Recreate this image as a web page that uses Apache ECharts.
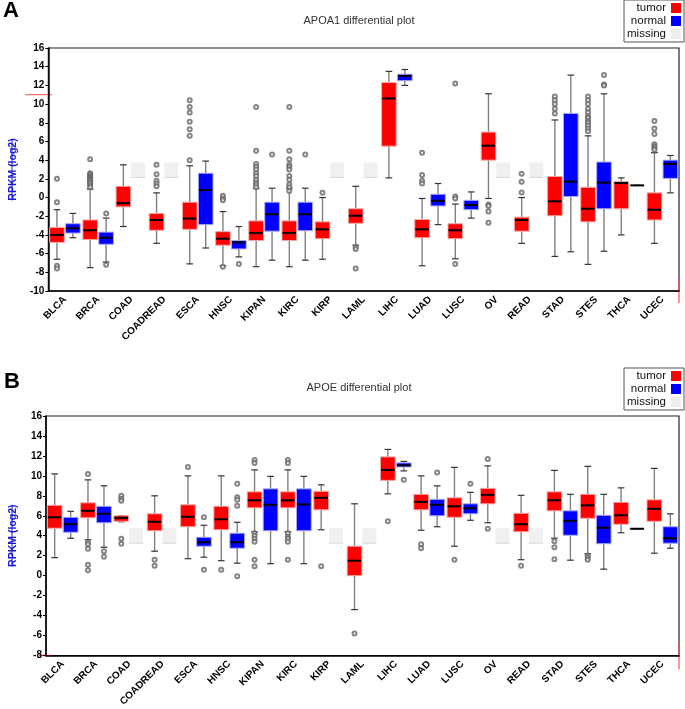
<!DOCTYPE html>
<html>
<head>
<meta charset="utf-8">
<script src="https://cdn.jsdelivr.net/npm/echarts@6/dist/echarts.min.js"></script>
<style>
html,body{margin:0;padding:0;background:#fff;}
#chart{width:685px;height:709px;}
</style>
</head>
<body>
<div id="chart"></div>
<script>
const categories = ['BLCA','BRCA','COAD','COADREAD','ESCA','HNSC','KIPAN','KIRC','KIRP','LAML','LIHC','LUAD','LUSC','OV','READ','STAD','STES','THCA','UCEC'];

// box values: [lower whisker, Q1, median, Q3, upper whisker]; null = missing
const apoa1Tumor = [
  [-6.6,-4.8,-4.0,-3.2,-1.3],
  [-7.5,-4.5,-3.5,-2.4,0.9],
  [-3.1,-1.0,-0.6,1.2,3.5],
  [-4.9,-3.5,-2.4,-1.7,0.5],
  [-7.1,-3.4,-2.25,-0.5,3.4],
  [-7.3,-5.1,-4.4,-3.65,-1.5],
  [-7.4,-4.6,-3.8,-2.5,1.0],
  [-7.4,-4.6,-3.8,-2.5,1.0],
  [-6.6,-4.4,-3.4,-2.6,0.0],
  [-5.1,-2.75,-1.95,-1.2,1.2],
  [2.1,5.5,10.6,12.3,13.5],
  [-7.3,-4.3,-3.4,-2.35,-0.1],
  [-6.55,-4.4,-3.5,-2.8,-0.7],
  [-0.1,4.0,5.55,7.0,11.1],
  [-4.9,-3.6,-2.4,-2.1,0.0],
  [-6.3,-1.95,-0.4,2.25,8.3],
  [-7.15,-2.6,-1.2,1.1,6.6],
  [-4.0,-1.2,1.55,1.7,2.1],
  [-4.9,-2.4,-1.3,0.5,4.8]
];
const apoa1Normal = [
  [-4.3,-3.8,-3.3,-2.8,-1.7],
  [-6.9,-5.0,-4.3,-3.7,-2.2],
  null,
  null,
  [-5.4,-2.9,0.8,2.6,3.9],
  [-6.35,-5.5,-4.8,-4.6,-3.1],
  [-6.7,-3.6,-1.8,-0.5,1.0],
  [-6.7,-3.55,-1.8,-0.5,1.0],
  null,
  null,
  [12.0,12.5,13.0,13.2,13.7],
  [-2.9,-0.9,-0.35,0.35,1.5],
  [-2.2,-1.3,-0.8,-0.3,0.6],
  null,
  null,
  [-5.8,0.1,1.7,9.0,13.1],
  [-5.75,-1.2,1.6,3.8,11.1],
  [1.3,1.3,1.3,1.3,1.3],
  [0.5,2.05,3.6,4.0,4.5]
];
const apoa1TumorOut = [
  [2.0,-0.5,-7.3,-7.6],
  [4.1,2.6,2.5,2.3,2.2,2.1,2.0,1.9,1.8,1.6,1.5,1.3,1.1],
  [],
  [3.5,2.5,1.8,1.5,1.2],
  [10.4,9.7,9.1,8.1,7.3,6.6,4.0],
  [0.2,-0.1,-0.3,-7.4],
  [9.7,5.0,3.6,3.3,3.0,2.6,2.3,1.9,1.6,1.4,1.1],
  [9.7,5.0,4.1,3.5,3.3,3.0,2.3,1.9,1.4,1.1,0.7],
  [0.5],
  [-5.3,-5.5,-7.6],
  [],
  [4.8,2.4,1.8,1.5],
  [12.2,0.1,-0.1,-7.1],
  [-0.75,-0.9,-1.5,-2.7],
  [2.55,1.7,0.55],
  [10.8,10.4,10.0,9.5,9.0],
  [10.8,10.4,10.0,9.5,9.1,8.7,8.5,8.2,8.0,7.7,7.4,7.1],
  [],
  [8.2,7.4,6.8,5.7,5.5,5.3,5.1]
];
const apoa1NormalOut = [
  [],[-1.7,-7.2],[],[],[],[-7.1],[4.6],[4.6],[],[],[],[],[],[],[],[],[13.1,12.1,12.0],[],[]
];
const apoa1Missing = [2.15, 3.75];

const apoeTumor = [
  [1.8,4.75,5.85,7.05,10.2],
  [3.6,5.8,6.5,7.3,9.6],
  [5.4,5.45,5.8,6.0,6.0],
  [2.45,4.5,5.4,6.2,8.0],
  [1.7,4.9,5.9,7.1,10.0],
  [1.5,4.6,5.65,6.95,10.0],
  [4.4,6.8,7.55,8.4,10.6],
  [4.4,6.8,7.55,8.4,10.6],
  [4.6,6.6,7.8,8.45,9.1],
  [-3.4,0.0,1.5,2.95,7.2],
  [8.2,9.55,10.6,11.9,12.65],
  [4.55,6.6,7.4,8.15,10.0],
  [2.95,5.85,6.95,7.8,10.85],
  [5.3,7.2,8.1,8.75,11.0],
  [1.6,4.4,5.15,6.25,8.05],
  [3.75,6.5,7.55,8.4,10.55],
  [2.2,5.75,7.05,8.15,10.95],
  [4.3,5.15,6.05,7.35,8.8],
  [2.25,5.45,6.7,7.6,10.75]
];
const apoeNormal = [
  [3.75,4.35,5.15,5.85,6.45],
  [2.85,5.3,6.2,6.95,9.0],
  null,
  null,
  [1.85,2.95,3.35,3.85,5.05],
  [1.25,2.75,3.35,4.25,5.35],
  [1.2,4.5,7.1,8.7,9.95],
  [1.2,4.5,7.15,8.7,9.95],
  null,
  null,
  [10.5,10.9,11.05,11.3,11.45],
  [4.9,6.0,7.1,7.65,9.0],
  [5.55,6.2,6.75,7.2,8.35],
  null,
  null,
  [1.55,4.05,5.5,6.5,8.15],
  [0.65,3.2,4.8,6.05,8.15],
  [4.7,4.7,4.7,4.7,4.7],
  [2.75,3.25,3.75,4.9,6.2]
];
const apoeTumorOut = [
  [],
  [10.2,3.35,3.15,2.7,1.1,0.55],
  [8.0,7.7,7.5,3.7,3.2],
  [1.6,1.0],
  [10.9],
  [0.6],
  [11.6,11.3,4.25,4.0,3.7,3.4,1.6,0.95],
  [11.6,11.3,4.25,3.9,3.7,3.4,1.6],
  [0.95],
  [-5.8],
  [5.45],
  [3.15,2.75],
  [1.6],
  [11.7,4.7],
  [1.0],
  [3.45,2.85,1.65],
  [2.0,1.8,1.6],
  [],
  []
];
const apoeNormalOut = [
  [],[2.45,1.9],[],[],[5.85,0.6],[9.2,7.85,7.6,7.0,-0.05],[],[],[],[],[9.6],[10.35],[9.2],[],[],[],[],[],[]
];
const apoeMissing = [3.25, 4.75];

const yTicksA = {min:-10, max:16, interval:2};
const yTicksB = {min:-8, max:16, interval:2};

const FONT = 'Liberation Sans, Arial, sans-serif';
const SIDE = 0.24, BOXW = 0.44;

function boxRender(fill, border, side) {
  return function (params, api) {
    const c = api.value(0);
    const band = api.size([1, 0])[0];
    const cx = api.coord([c, 0])[0] + side * band * SIDE;
    const w = band * BOXW;
    const cap = band * 0.2;
    const y = i => api.coord([c, api.value(i)])[1];
    const yLo = y(1), yQ1 = y(2), yMed = y(3), yQ3 = y(4), yHi = y(5);
    const ws = {stroke:'#808080', lineWidth:1.4};
    const cs = {stroke:'#333', lineWidth:1.2};
    return {type:'group', children:[
      {type:'line', shape:{x1:cx, y1:yHi, x2:cx, y2:yQ3}, style:ws},
      {type:'line', shape:{x1:cx, y1:yQ1, x2:cx, y2:yLo}, style:ws},
      {type:'line', shape:{x1:cx-cap/2, y1:yHi, x2:cx+cap/2, y2:yHi}, style:cs},
      {type:'line', shape:{x1:cx-cap/2, y1:yLo, x2:cx+cap/2, y2:yLo}, style:cs},
      {type:'rect', shape:{x:cx-w/2, y:yQ3, width:w, height:Math.max(0, yQ1-yQ3)}, style:{fill:fill, stroke:border, lineWidth:1}},
      {type:'line', shape:{x1:cx-w/2+0.5, y1:yMed, x2:cx+w/2-0.5, y2:yMed}, style:{stroke:'#000', lineWidth:2}}
    ]};
  };
}
function missingRender(params, api) {
  const c = api.value(0);
  const band = api.size([1, 0])[0];
  const cx = api.coord([c, 0])[0] + band * SIDE * 0.85;
  const w = band * BOXW * 0.95;
  const y1 = api.coord([c, api.value(1)])[1];
  const y2 = api.coord([c, api.value(2)])[1];
  return {type:'group', children:[
    {type:'rect', shape:{x:cx-w/2, y:y2, width:w, height:y1-y2}, style:{fill:'#f0f0f0'}},
    {type:'line', shape:{x1:cx-w/2, y1:y1, x2:cx+w/2, y2:y1}, style:{stroke:'#d8d8d8', lineWidth:1}}
  ]};
}

function boxData(arr) {
  const out = [];
  arr.forEach((v, i) => { if (v) out.push([i].concat(v)); });
  return out;
}
function missingData(arr, range) {
  const out = [];
  arr.forEach((v, i) => { if (!v) out.push([i, range[0], range[1]]); });
  return out;
}
function outData(arr) {
  const out = [];
  arr.forEach((list, i) => list.forEach(v => out.push([i, v])));
  return out;
}

function panelSeries(idx, tumor, normal, tOut, nOut, missing) {
  return [
    {name:'tumor', type:'custom', xAxisIndex:idx, yAxisIndex:idx, renderItem:boxRender('#ff0000', '#f2a6a6', -1),
     itemStyle:{color:'#ff0000'}, data:boxData(tumor), encode:{x:0, y:[1,2,3,4,5]}, silent:true, z:2},
    {name:'normal', type:'custom', xAxisIndex:idx, yAxisIndex:idx, renderItem:boxRender('#0000ff', '#a9a9ec', 1),
     itemStyle:{color:'#0000ff'}, data:boxData(normal), encode:{x:0, y:[1,2,3,4,5]}, silent:true, z:2},
    {name:'missing', type:'custom', xAxisIndex:idx, yAxisIndex:idx, renderItem:missingRender,
     itemStyle:{color:'#eeeeee'}, data:missingData(normal, missing), encode:{x:0, y:[1,2]}, silent:true, z:1},
    {name:'tumor outliers', type:'scatter', xAxisIndex:idx, yAxisIndex:idx, data:outData(tOut),
     symbol:'emptyCircle', symbolSize:4, symbolOffset:[-8, 0], itemStyle:{color:'#666', borderWidth:0.9}, silent:true, z:3},
    {name:'normal outliers', type:'scatter', xAxisIndex:idx, yAxisIndex:idx, data:outData(nOut),
     symbol:'emptyCircle', symbolSize:4, symbolOffset:[8, 0], itemStyle:{color:'#666', borderWidth:0.9}, silent:true, z:3}
  ];
}

function xAxis(grid) {
  return {type:'category', gridIndex:grid, data:categories, boundaryGap:true,
    axisLine:{onZero:false, lineStyle:{color:'#000', width:1.5}},
    axisTick:{alignWithLabel:true, length:4, lineStyle:{color:'#000', width:1}},
    axisLabel:{interval:0, rotate:45, fontSize:10, fontWeight:'bold', color:'#000', fontFamily:FONT, margin:7},
    splitLine:{show:false}};
}
function yAxis(grid, t) {
  return {type:'value', gridIndex:grid, min:t.min, max:t.max, interval:t.interval,
    name:'RPKM (log2)', nameLocation:'middle', nameGap:27,
    nameTextStyle:{color:'#1a1ad6', fontWeight:'bold', fontSize:10.5, fontFamily:FONT},
    axisLine:{show:true, onZero:false, lineStyle:{color:'#000', width:1.5}},
    axisTick:{show:true, length:3, lineStyle:{color:'#000'}},
    axisLabel:{fontSize:10, fontWeight:'bold', color:'#000', fontFamily:FONT, margin:4},
    splitLine:{show:false}};
}
function legend(top) {
  return {orient:'vertical', right:1, top:top, align:'right', itemWidth:10, itemHeight:10, itemGap:1,
    icon:'rect', borderColor:'#555', borderWidth:1, padding:[2,3,2,3], backgroundColor:'#fff',
    selectedMode:false,
    textStyle:{fontSize:11.5, color:'#111', fontFamily:FONT, width:42, align:'left'},
    data:['tumor','normal','missing']};
}

const chart = echarts.init(document.getElementById('chart'), null, {renderer:'canvas'});
chart.setOption({
  animation:false,
  backgroundColor:'#fff',
  title:[
    {text:'A', left:3, top:0, padding:0, textStyle:{fontSize:22, fontWeight:'bold', color:'#000', fontFamily:FONT}},
    {text:'APOA1 differential plot', left:359, textAlign:'center', top:15, padding:0,
     textStyle:{fontSize:11, fontWeight:'normal', color:'#333', fontFamily:FONT}},
    {text:'B', left:4, top:371, padding:0, textStyle:{fontSize:22, fontWeight:'bold', color:'#000', fontFamily:FONT}},
    {text:'APOE differential plot', left:359, textAlign:'center', top:382, padding:0,
     textStyle:{fontSize:11, fontWeight:'normal', color:'#333', fontFamily:FONT}}
  ],
  legend:[legend(0), legend(368)],
  grid:[
    {left:39, top:48, width:640, height:243, show:true, borderColor:'#222', borderWidth:1.2, backgroundColor:'transparent'},
    {left:39, top:416, width:640, height:242, show:true, borderColor:'#222', borderWidth:1.2, backgroundColor:'transparent'}
  ],
  xAxis:[xAxis(0), xAxis(1)],
  yAxis:[yAxis(0, yTicksA), yAxis(1, yTicksB)],
  series:[].concat(
    panelSeries(0, apoa1Tumor, apoa1Normal, apoa1TumorOut, apoa1NormalOut, apoa1Missing),
    panelSeries(1, apoeTumor, apoeNormal, apoeTumorOut, apoeNormalOut, apoeMissing)
  )
});

// decorations: underline of axis names and stray red marks present in the original figure
const yA11 = chart.convertToPixel({yAxisIndex:0}, 11);
const yAmid = chart.convertToPixel({yAxisIndex:0}, 3);
const yBmid = chart.convertToPixel({yAxisIndex:1}, 4);
const yAbot = chart.convertToPixel({yAxisIndex:0}, -10);
const yBbot = chart.convertToPixel({yAxisIndex:1}, -8);
chart.setOption({
  graphic:[
    {type:'line', shape:{x1:12, y1:yAmid-31, x2:12, y2:yAmid+31}, style:{stroke:'#1a1ad6', lineWidth:1}},
    {type:'line', shape:{x1:12, y1:yBmid-31, x2:12, y2:yBmid+31}, style:{stroke:'#1a1ad6', lineWidth:1}},
    {type:'line', shape:{x1:25, y1:yA11, x2:52, y2:yA11}, style:{stroke:'#ff4d4d', lineWidth:1}},
    {type:'line', shape:{x1:679, y1:yAbot-14, x2:679, y2:yAbot+12}, style:{stroke:'#ff4d4d', lineWidth:1.2}},
    {type:'line', shape:{x1:39, y1:yBbot, x2:52, y2:yBbot}, style:{stroke:'#ff4d4d', lineWidth:1.5}},
    {type:'line', shape:{x1:679, y1:yBbot-13, x2:679, y2:yBbot+14}, style:{stroke:'#ff4d4d', lineWidth:1.2}}
  ]
});
</script>
</body>
</html>
